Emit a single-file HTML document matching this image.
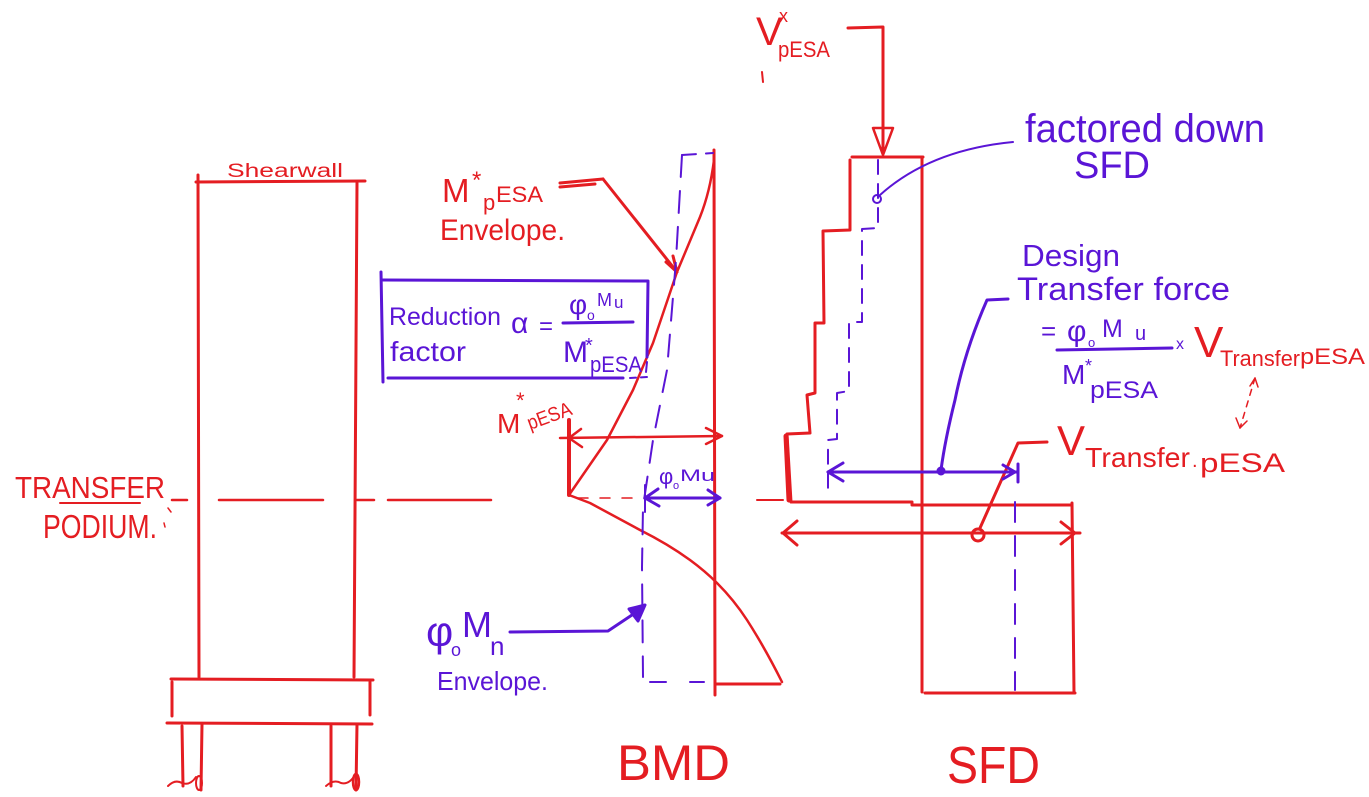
<!DOCTYPE html>
<html><head><meta charset="utf-8"><style>
html,body{margin:0;padding:0;background:#fff;}
svg{display:block;}
text{font-family:"Liberation Sans",sans-serif;}
.r{fill:#e41d22;}
.b{fill:#5a15d6;}
</style></head><body>
<svg width="1369" height="797" viewBox="0 0 1369 797" xmlns="http://www.w3.org/2000/svg">
<rect width="1369" height="797" fill="#fff"/>
<g fill="none" stroke="#e41d22" stroke-width="3" stroke-linecap="round" stroke-linejoin="round">
  <!-- shearwall -->
  <path d="M196,182 L365,181"/>
  <path d="M198,175 L199,677"/>
  <path d="M357,183 L354,677"/>
  <path d="M171,679 L373,680"/>
  <path d="M172,682 L172,716"/>
  <path d="M370,682 L370,715"/>
  <path d="M167,723 L372,724"/>
  <path d="M182,726 L183,786"/>
  <path d="M202,724 L201,790"/>
  <path d="M331,726 L331,786"/>
  <path d="M357,724 L356,790"/>
  <path d="M168,786 q7,-7 14,-3 q8,3 14,-6" stroke-width="2"/>
  <ellipse cx="199" cy="783" rx="3" ry="7" stroke-width="2"/>
  <path d="M326,786 q8,-7 15,-3 q8,2 14,-8" stroke-width="2"/>
  <ellipse cx="356" cy="782" rx="3" ry="8" stroke-width="2.5"/>
  <!-- dashed level line -->
  <path d="M172,500 L187,500 M219,500 L323,500 M357,500 L374,500 M388,500 L491,500" stroke-width="2.5"/>
  <path d="M60,503 L140,503" stroke-width="2"/>
  <path d="M168,508 l3,4 M164,523 l1,4" stroke-width="1.5"/>
  <!-- BMD -->
  <path d="M714,150 L715,695"/>
  <path d="M715,684 L780,684"/>
  <path d="M569,420 L569,495" stroke-width="4"/>
  <path d="M569,495 L607,440 L633,390 L653,343 L677,272 L700,217 Q710,192 714,160" stroke-width="2.5"/>
  <path d="M569,495 L590,503 Q612,515 640,530 Q668,544 690,560 Q705,571 717,583 Q734,600 747,620 Q765,648 782,682" stroke-width="2.5"/>
  <path d="M560,438 L722,436" stroke-width="2.5"/>
  <path d="M581,429 L569,438 L582,447" stroke-width="2.5"/>
  <path d="M706,428 L722,436 L706,444" stroke-width="2.5"/>
  <path d="M578,498 L720,498" stroke-width="1.5" stroke-dasharray="10 12"/>
  <path d="M757,500 L783,500" stroke-width="2"/>
  <!-- red arrow from M*pESA envelope -->
  <path d="M560,183 L603,179 M560,187 L595,184"/>
  <path d="M603,179 L677,272"/>
  <path d="M666,262 L677,272 L673,256"/>
  <!-- SFD -->
  <path d="M848,28 L883,27 L883,150"/>
  <path d="M873,128 L893,128 L883,155 Z" stroke-width="2.5"/>
  <path d="M762,72 L763,82" stroke-width="2"/>
  <path d="M852,157 L923,157"/>
  <path d="M922,157 L922,692"/>
  <path d="M925,693 L1075,693"/>
  <path d="M1072,503 L1074,693"/>
  <path d="M850,160 L850,230 L823,231 L824,323 L815,323 L815,393 L807,395 L810,433 L787,434 L791,502 L912,502 L912,505 L1072,505"/>
  <path d="M786,436 L789,500" stroke-width="5"/>
  <path d="M782,533 L1080,533"/>
  <path d="M797,521 L783,533 L797,545"/>
  <path d="M1061,522 L1075,533 L1061,544"/>
  <!-- leader V transfer -->
  <path d="M1047,442 L1018,443 L980,528"/>
  <circle cx="978" cy="535" r="6"/>
  <!-- red dashed relation arrow -->
  <path d="M1255,378 L1240,428" stroke-width="1.5" stroke-dasharray="6 6"/>
  <path d="M1250,386 L1255,378 L1258,387 M1236,418 L1240,428 L1247,421" stroke-width="1.5"/>
</g>
<g fill="none" stroke="#5a15d6" stroke-width="3" stroke-linecap="round" stroke-linejoin="round">
  <!-- reduction box -->
  <path d="M383,280 L648,281"/>
  <path d="M381,272 L383,382"/>
  <path d="M388,378 L623,378"/>
  <path d="M630,378 L648,377" stroke-width="2" stroke-dasharray="6 5"/>
  <path d="M648,282 L647,357"/>
  <path d="M647,362 L646,372" stroke-width="2"/>
  <path d="M563,323 L633,322"/>
  <!-- BMD envelope dashed -->
  <path d="M682,155 L713,153" stroke-width="2" stroke-dasharray="14 10"/>
  <path d="M682,155 L676,260 L667,370 L653,440 L643,507 L642,567 L643,677" stroke-width="2" stroke-dasharray="22 14"/>
  <path d="M650,682 L666,682 M690,682 L704,682" stroke-width="2"/>
  <path d="M645,498 L720,498"/>
  <path d="M658,489 L645,498 L659,506"/>
  <path d="M645,485 L645,512" stroke-width="2"/>
  <path d="M708,490 L720,498 L708,505"/>
  <path d="M510,632 L608,631 L638,611"/>
  <path d="M645,605 L629,609 L638,621 Z" fill="#5a15d6"/>
  <!-- SFD dashed staircase -->
  <path d="M878,160 L878,228 L862,229 L862,322 L849,322 L849,391 L837,393 L837,439 L828,440 L828,490" stroke-width="2" stroke-dasharray="14 10"/>
  <path d="M1015,502 L1015,690" stroke-width="2" stroke-dasharray="20 14"/>
  <circle cx="877" cy="199" r="4" stroke-width="2"/>
  <path d="M880,195 Q930,150 1013,142" stroke-width="2"/>
  <path d="M1008,299 L987,300 Q965,350 955,400 Q945,440 941,470"/>
  <circle cx="941" cy="471" r="3" fill="#5a15d6"/>
  <path d="M828,472 L1018,472"/>
  <path d="M843,463 L828,472 L843,481"/>
  <path d="M1003,465 L1015,472 L1003,479"/>
  <path d="M1018,464 L1018,482"/>
  <path d="M1057,350 L1172,348"/>
</g>
<!-- red text -->
<text class="r" x="227" y="177" font-size="19" textLength="116" lengthAdjust="spacingAndGlyphs">Shearwall</text>
<text class="r" x="15" y="498" font-size="31" textLength="150" lengthAdjust="spacingAndGlyphs">TRANSFER</text>
<text class="r" x="43" y="538" font-size="33" textLength="114" lengthAdjust="spacingAndGlyphs">PODIUM.</text>
<text class="r" x="617" y="780" font-size="50" textLength="113" lengthAdjust="spacingAndGlyphs">BMD</text>
<text class="r" x="947" y="783" font-size="52" textLength="93" lengthAdjust="spacingAndGlyphs">SFD</text>
<text class="r" x="442" y="202" font-size="33">M</text>
<text class="r" x="472" y="188" font-size="24">*</text>
<text class="r" x="483" y="210" font-size="22">p</text>
<text class="r" x="496" y="202" font-size="22" textLength="47" lengthAdjust="spacingAndGlyphs">ESA</text>
<text class="r" x="440" y="240" font-size="30" textLength="125" lengthAdjust="spacingAndGlyphs">Envelope.</text>
<text class="r" x="497" y="433" font-size="28">M</text>
<text class="r" x="516" y="408" font-size="22">*</text>
<text class="r" x="530" y="430" font-size="20" textLength="46" lengthAdjust="spacingAndGlyphs" transform="rotate(-20 530 430)">pESA</text>
<text class="r" x="756" y="45" font-size="40">V</text>
<text class="r" x="779" y="22" font-size="18">x</text>
<text class="r" x="778" y="57" font-size="22" textLength="52" lengthAdjust="spacingAndGlyphs">pESA</text>
<text class="r" x="1194" y="357" font-size="44">V</text>
<text class="r" x="1220" y="366" font-size="22" textLength="80" lengthAdjust="spacingAndGlyphs">Transfer</text>
<text class="r" x="1300" y="364" font-size="22" textLength="65" lengthAdjust="spacingAndGlyphs">pESA</text>
<text class="r" x="1057" y="455" font-size="42">V</text>
<text class="r" x="1085" y="467" font-size="28" textLength="105" lengthAdjust="spacingAndGlyphs">Transfer</text>
<text class="r" x="1192" y="467" font-size="20">.</text>
<text class="r" x="1200" y="472" font-size="27" textLength="85" lengthAdjust="spacingAndGlyphs">pESA</text>
<!-- blue text -->
<text class="b" x="389" y="325" font-size="25" textLength="112" lengthAdjust="spacingAndGlyphs">Reduction</text>
<text class="b" x="390" y="361" font-size="28" textLength="76" lengthAdjust="spacingAndGlyphs">factor</text>
<text class="b" x="511" y="333" font-size="30">α</text>
<text class="b" x="539" y="334" font-size="24">=</text>
<text class="b" x="569" y="314" font-size="28">φ</text>
<text class="b" x="587" y="320" font-size="14">o</text>
<text class="b" x="597" y="306" font-size="18">M</text>
<text class="b" x="614" y="308" font-size="17">u</text>
<text class="b" x="563" y="362" font-size="30">M</text>
<text class="b" x="585" y="352" font-size="20">*</text>
<text class="b" x="590" y="372" font-size="22" textLength="52" lengthAdjust="spacingAndGlyphs">pESA</text>
<text class="b" x="659" y="484" font-size="22">φ</text>
<text class="b" x="673" y="489" font-size="11">o</text>
<text class="b" x="680" y="481" font-size="17" textLength="35" lengthAdjust="spacingAndGlyphs">Mu</text>
<text class="b" x="426" y="646" font-size="42">φ</text>
<text class="b" x="451" y="656" font-size="18">o</text>
<text class="b" x="462" y="637" font-size="36">M</text>
<text class="b" x="490" y="655" font-size="26">n</text>
<text class="b" x="437" y="690" font-size="26" textLength="111" lengthAdjust="spacingAndGlyphs">Envelope.</text>
<text class="b" x="1025" y="142" font-size="40" textLength="240" lengthAdjust="spacingAndGlyphs">factored  down</text>
<text class="b" x="1074" y="178" font-size="38" textLength="76" lengthAdjust="spacingAndGlyphs">SFD</text>
<text class="b" x="1022" y="266" font-size="31" textLength="98" lengthAdjust="spacingAndGlyphs">Design</text>
<text class="b" x="1017" y="300" font-size="32" textLength="213" lengthAdjust="spacingAndGlyphs">Transfer force</text>
<text class="b" x="1041" y="340" font-size="26">=</text>
<text class="b" x="1067" y="341" font-size="30">φ</text>
<text class="b" x="1088" y="347" font-size="13">o</text>
<text class="b" x="1102" y="337" font-size="25">M</text>
<text class="b" x="1135" y="340" font-size="20">u</text>
<text class="b" x="1062" y="384" font-size="28">M</text>
<text class="b" x="1085" y="372" font-size="18">*</text>
<text class="b" x="1090" y="398" font-size="24" textLength="68" lengthAdjust="spacingAndGlyphs">pESA</text>
<text class="b" x="1176" y="349" font-size="16">x</text>
</svg>
</body></html>
